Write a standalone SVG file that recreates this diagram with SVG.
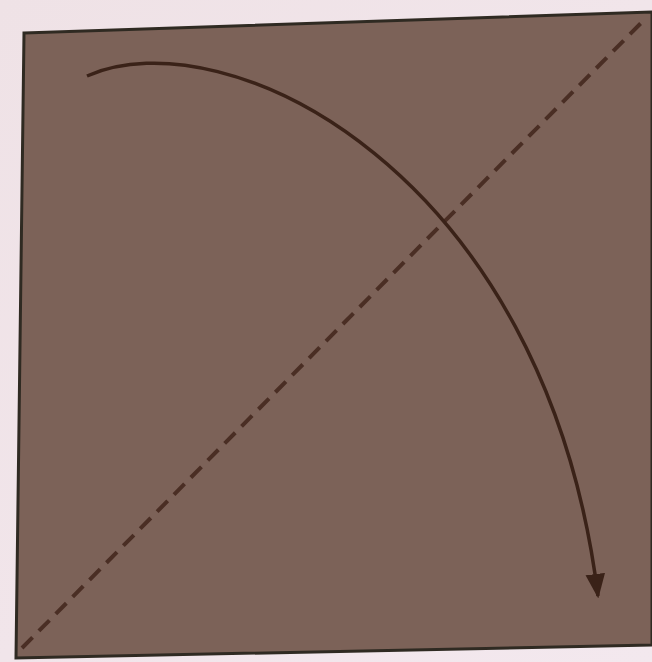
<svg xmlns="http://www.w3.org/2000/svg" width="652" height="662" viewBox="0 0 652 662">
<defs>
<marker id="ah" viewBox="0 0 10 10" refX="9" refY="5" markerWidth="7" markerHeight="7" orient="auto" markerUnits="strokeWidth">
<path d="M0,1 L10,5 L0,9 Z" fill="#3a2218"/>
</marker>
<linearGradient id="bg" x1="0" y1="0" x2="1" y2="1">
<stop offset="0" stop-color="#efe2e6"/>
<stop offset="1" stop-color="#f3e8ee"/>
</linearGradient>
<style>
.paper{fill:#7c6258;stroke:#2f2a22;stroke-width:3}
.fold{fill:none;stroke:#4a2e24;stroke-width:4;stroke-dasharray:15 9}
.arrow{fill:none;stroke:#3a2218;stroke-width:3.5}
</style>
</defs>
<rect x="0" y="0" width="652" height="662" fill="url(#bg)"/>
<g id="paper">
<polygon class="paper" points="24,33 652,12 652,645 16,658"/>
</g>
<g id="connectors">
<line class="fold" x1="22" y1="648" x2="646" y2="18"/>
<path class="arrow" d="M87,76 C225,15 545,170 598,596" marker-end="url(#ah)"/>
</g>
</svg>
